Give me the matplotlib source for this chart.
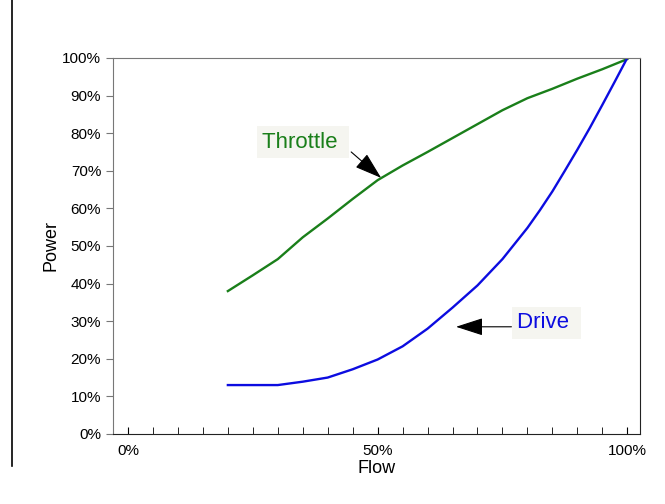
import matplotlib.pyplot as plt
from matplotlib.ticker import FuncFormatter, MultipleLocator

plt.rcParams['font.family'] = ['Liberation Sans', 'DejaVu Sans']

# dados
fluxo_t = [20, 25, 30, 35, 40, 45, 50, 55, 60, 65, 70, 75, 80, 85, 90, 95, 100]
throttle = [38, 42.2, 46.5, 52.3, 57.3, 62.5, 67.5, 71.4, 75, 78.7, 82.4, 86.1, 89.3, 91.8, 94.5, 97, 99.7]

fluxo_d = [20, 30, 35, 40, 45, 50, 55, 60, 65, 70, 75, 80, 82.5, 85, 87.5, 90, 92.5, 95, 97.5, 100]
drive = [13, 13, 13.9, 15, 17.2, 19.8, 23.3, 28, 33.6, 39.5, 46.5, 54.8, 59.5, 64.5, 70, 75.6, 81.4, 87.5, 93.7, 100]

fig = plt.figure(figsize=(6.65, 5.04), dpi=100)
ax = fig.add_axes([0.170, 0.139, 0.792, 0.746])

ax.plot(fluxo_t, throttle, color='#1a7f1a', lw=1.7)
ax.plot(fluxo_d, drive, color='#0c0ce0', lw=1.7)

ax.set_xlim(-3, 102.5)
ax.set_ylim(0, 100)

pct = FuncFormatter(lambda v, p: f'{v:.0f}%')
ax.xaxis.set_major_locator(MultipleLocator(50))
ax.xaxis.set_minor_locator(MultipleLocator(5))
ax.yaxis.set_major_locator(MultipleLocator(10))
ax.xaxis.set_major_formatter(pct)
ax.yaxis.set_major_formatter(pct)
ax.tick_params(axis='x', direction='in', length=5, labelsize=11, pad=7)
ax.tick_params(axis='x', which='minor', direction='in', length=5)
ax.tick_params(axis='y', direction='out', length=5, labelsize=11, color='#777777')

for s in ['left', 'top']:
    ax.spines[s].set_color('#777777')
for s in ['bottom', 'right']:
    ax.spines[s].set_color('#222222')

ax.set_xlabel('Flow', fontsize=13, labelpad=2)
ax.set_ylabel('Power', fontsize=13, labelpad=2)

caixa = dict(boxstyle='square,pad=0.25', fc='#f5f5f0', ec='none')
seta = dict(arrowstyle='-|>,head_length=1.7,head_width=0.55', color='black', lw=0.8,
            shrinkA=0, shrinkB=0, mutation_scale=10)

ax.text(26.9, 77.6, 'Throttle ', color='#1a7f1a', fontsize=16, ha='left', va='center', bbox=caixa)
ax.annotate('', xy=(50.7, 68.1), xytext=(44.7, 75.0), arrowprops=seta)

ax.text(78.0, 29.6, 'Drive ', color='#0c0ce0', fontsize=16, ha='left', va='center', bbox=caixa)
ax.annotate('', xy=(65.7, 28.5), xytext=(76.8, 28.5), arrowprops=seta)

# linha vertical à esquerda, como no original
fig.add_artist(plt.Line2D([0.018, 0.018], [0.075, 1.0], color='black', lw=1.2,
                          transform=fig.transFigure))

fig.savefig('out.png', dpi=100)
